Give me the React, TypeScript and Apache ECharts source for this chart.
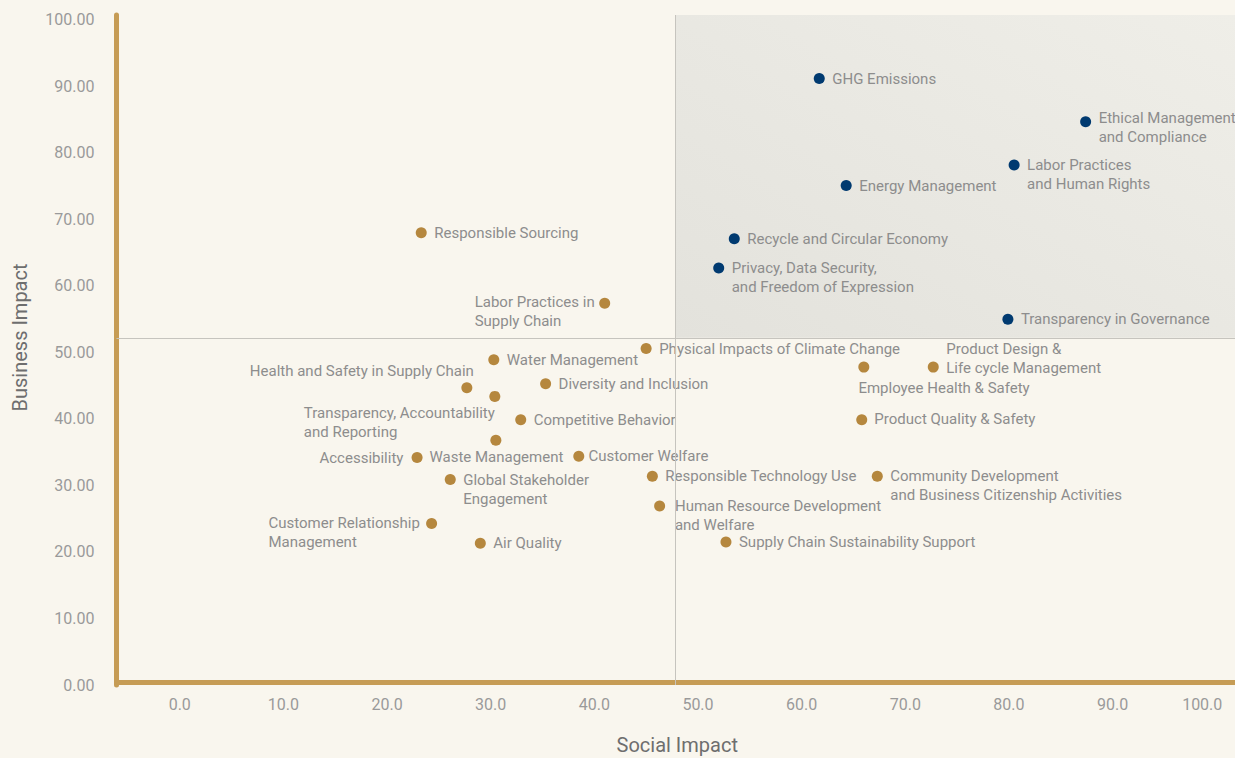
import React, { useEffect, useRef } from "react";
import * as echarts from "echarts";

// ---- data ----
const navyNames = [
  "GHG Emissions",
  "Ethical Management\nand Compliance",
  "Labor Practices\nand Human Rights",
  "Energy Management",
  "Recycle and Circular Economy",
  "Privacy, Data Security,\nand Freedom of Expression",
  "Transparency in Governance",
];
const navyX = [61.7, 87.4, 80.5, 64.3, 53.5, 52.0, 79.9];
const navyY = [91.2, 84.7, 78.2, 75.1, 67.1, 62.7, 55.0];

const goldNames = [
  "Responsible Sourcing",
  "Labor Practices in\nSupply Chain",
  "Physical Impacts of Climate Change",
  "Water Management",
  "Health and Safety in Supply Chain",
  "Transparency, Accountability\nand Reporting",
  "Diversity and Inclusion",
  "Competitive Behavior",
  "Waste Management",
  "Accessibility",
  "Customer Welfare",
  "Global Stakeholder\nEngagement",
  "Responsible Technology Use",
  "Customer Relationship\nManagement",
  "Air Quality",
  "Human Resource Development\nand Welfare",
  "Supply Chain Sustainability Support",
  "Employee Health & Safety",
  "Product Design &\nLife cycle Management",
  "Product Quality & Safety",
  "Community Development\nand Business Citizenship Activities",
];
const goldX = [23.3, 41.0, 45.0, 30.3, 27.7, 30.4, 35.3, 32.9, 30.5, 22.9, 38.5, 26.1, 45.6, 24.3, 29.0, 46.3, 52.7, 66.0, 72.7, 65.8, 67.3];
const goldY = [68.0, 57.4, 50.6, 48.9, 44.7, 43.4, 45.3, 39.9, 36.8, 34.2, 34.4, 30.9, 31.4, 24.3, 21.3, 26.9, 21.5, 47.8, 47.8, 39.9, 31.4];

const xTicks = [0, 10, 20, 30, 40, 50, 60, 70, 80, 90, 100];
const yTicks = [0, 10, 20, 30, 40, 50, 60, 70, 80, 90, 100];
const xMin = -6.1;
const xMax = 102.1;
const yMin = 0;
const yMax = 100.75;
const xDivider = 47.8;
const yDivider = 52.2;

// ---- label placement (style) : [dx, dy of first line, align] ----
const labelPlace: Record<string, [number, number, string]> = {
  "Ethical Management\nand Compliance": [13, -3.4, "left"],
  "Labor Practices in\nSupply Chain": [-10, -1, "right"],
  "Health and Safety in Supply Chain": [7, -17, "right"],
  "Transparency, Accountability\nand Reporting": [0, 16.6, "right"],
  "Waste Management": [0.5, 16.4, "center"],
  "Accessibility": [-13.7, 0, "right"],
  "Customer Welfare": [9.6, 0, "left"],
  "Customer Relationship\nManagement": [-11.7, 0, "right"],
  "Human Resource Development\nand Welfare": [15.3, 0, "left"],
  "Employee Health & Safety": [-5.4, 21, "left"],
  "Product Design &\nLife cycle Management": [13, -18.3, "left"],
  "Product Quality & Safety": [12.6, -1, "left"],
};

const FONT = "Roboto, 'Noto Sans', sans-serif";
const SYM = 11;
const LH = 19;
const LABEL_COLOR = "#8d8d8d";
const TICK_COLOR = "#9a9a9a";

function makeLabel(n: string) {
  const p = labelPlace[n] || [13, 0, "left"];
  const r = SYM / 2;
  return {
    show: true,
    position: [r + p[0], r + p[1] - LH / 2],
    align: p[2],
    verticalAlign: "top",
    formatter: n.split("\n").map((s) => `{t|${s}}`).join("\n"),
    rich: {
      t: { align: "left", fontSize: 15, fontFamily: FONT, color: LABEL_COLOR, lineHeight: LH },
    },
  };
}

function makeData(names: string[], xs: number[], ys: number[]) {
  return names.map((n, i) => ({ name: n, value: [xs[i], ys[i]], label: makeLabel(n) }));
}

export default function App() {
  const ref = useRef<HTMLDivElement>(null);
  useEffect(() => {
    document.body.style.margin = "0";
    document.body.style.background = "#F9F6EE";
    const chart = echarts.init(ref.current!, null, { renderer: "svg" });
    const gold = "#B5873E";
    const navy = "#003A70";
    const axisGold = "#C69C55";
    chart.setOption({
      animation: false,
      backgroundColor: "#F9F6EE",
      grid: { left: 116.5, right: -3, top: 15, bottom: 73, containLabel: false, outerBoundsMode: "none" },
      xAxis: {
        type: "value",
        min: xMin,
        max: xMax,
        offset: -2.5,
        name: "Social Impact",
        nameLocation: "middle",
        nameGap: 52,
        nameTextStyle: { fontSize: 20, fontFamily: FONT, color: "#6e6e6e" },
        axisLine: { show: true, onZero: false, lineStyle: { color: axisGold, width: 5, cap: "square" } },
        axisTick: { show: false },
        splitLine: { show: false },
        axisLabel: {
          customValues: xTicks,
          formatter: (v: number) => (v === 100 ? "{e|100.0}" : v.toFixed(1)),
          fontSize: 16,
          fontFamily: FONT,
          color: TICK_COLOR,
          margin: 14,
          rich: {
            e: { fontSize: 16, fontFamily: FONT, color: TICK_COLOR, padding: [0, 28, 0, 0] },
          },
        },
      },
      yAxis: {
        type: "value",
        min: yMin,
        max: yMax,
        axisLine: { show: true, onZero: false, lineStyle: { color: axisGold, width: 5 } },
        axisTick: { show: false },
        splitLine: { show: false },
        axisLabel: {
          customValues: yTicks,
          formatter: (v: number) => v.toFixed(2),
          fontSize: 16,
          fontFamily: FONT,
          color: TICK_COLOR,
          margin: 22,
        },
      },
      graphic: [
        {
          type: "text",
          x: 20,
          y: 337.5,
          rotation: Math.PI / 2,
          style: {
            text: "Business Impact",
            align: "center",
            verticalAlign: "middle",
            fontSize: 20,
            fontFamily: FONT,
            fill: "#6e6e6e",
          },
        },
      ],
      series: [
        {
          type: "scatter",
          name: "bg",
          data: [],
          silent: true,
          markArea: {
            silent: true,
            itemStyle: {
              color: new echarts.graphic.LinearGradient(0, 1, 1, 0, [
                { offset: 0, color: "#E3E2DC" },
                { offset: 1, color: "#EFEEE8" },
              ]),
            },
            data: [[{ xAxis: xDivider, yAxis: yDivider }, { xAxis: xMax, yAxis: yMax }]],
          },
          markLine: {
            silent: true,
            symbol: "none",
            label: { show: false },
            lineStyle: { color: "#C6C4BE", width: 1, type: "solid" },
            data: [{ xAxis: xDivider }, { yAxis: yDivider }],
          },
        },
        {
          type: "scatter",
          name: "gold",
          symbolSize: SYM,
          itemStyle: { color: gold, opacity: 1 },
          data: makeData(goldNames, goldX, goldY),
        },
        {
          type: "scatter",
          name: "navy",
          symbolSize: SYM,
          itemStyle: { color: navy, opacity: 1 },
          data: makeData(navyNames, navyX, navyY),
        },
      ],
    });
    return () => chart.dispose();
  }, []);
  return <div ref={ref} style={{ width: 1235, height: 758 }} />;
}
